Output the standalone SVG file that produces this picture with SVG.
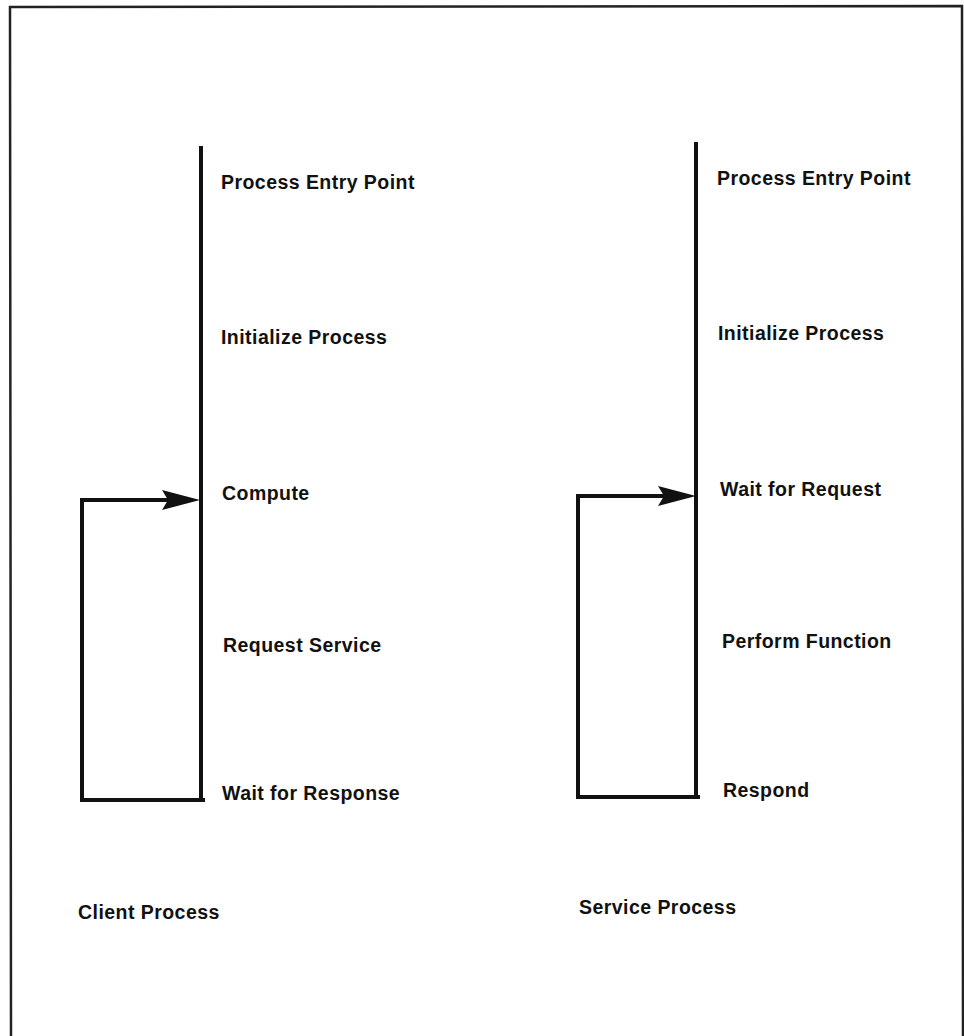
<svg xmlns="http://www.w3.org/2000/svg" width="964" height="1036" viewBox="0 0 964 1036">
<defs>
<style>
.t{font-family:"Liberation Sans",Arial,Helvetica,sans-serif;font-weight:bold;font-size:19.5px;letter-spacing:0.45px;fill:#111}
.ln{fill:none;stroke:#111;stroke-width:4;stroke-linejoin:miter;stroke-linecap:square}
.ah{fill:#111}
</style>
</defs>
<rect width="964" height="1036" fill="#fff"/>
<path d="M11,1036 L10,7 L962,6 L963,1036" fill="none" stroke="#222" stroke-width="2.5"/>
<g id="connectors">
<line class="ln" x1="201" y1="148" x2="201" y2="798"/>
<path class="ln" d="M203,800 L82,800 L82,500 L170,500"/>
<polygon class="ah" points="200,500 162,490 168,500 162,510"/>
<line class="ln" x1="696" y1="144" x2="696" y2="795"/>
<path class="ln" d="M698,797 L578,797 L578,496 L665,496"/>
<polygon class="ah" points="696,496 658,486 664,496 658,506"/>
</g>
<g id="client-entry"><text class="t" x="221" y="189">Process Entry Point</text></g>
<g id="client-init"><text class="t" x="221" y="344">Initialize Process</text></g>
<g id="client-compute"><text class="t" x="222" y="500">Compute</text></g>
<g id="client-request"><text class="t" x="223" y="652">Request Service</text></g>
<g id="client-wait"><text class="t" x="222" y="800">Wait for Response</text></g>
<g id="client-title"><text class="t" x="78" y="919">Client Process</text></g>
<g id="service-entry"><text class="t" x="717" y="185">Process Entry Point</text></g>
<g id="service-init"><text class="t" x="718" y="340">Initialize Process</text></g>
<g id="service-wait"><text class="t" x="720" y="496">Wait for Request</text></g>
<g id="service-perform"><text class="t" x="722" y="648">Perform Function</text></g>
<g id="service-respond"><text class="t" x="723" y="797">Respond</text></g>
<g id="service-title"><text class="t" x="579" y="914">Service Process</text></g>
</svg>
